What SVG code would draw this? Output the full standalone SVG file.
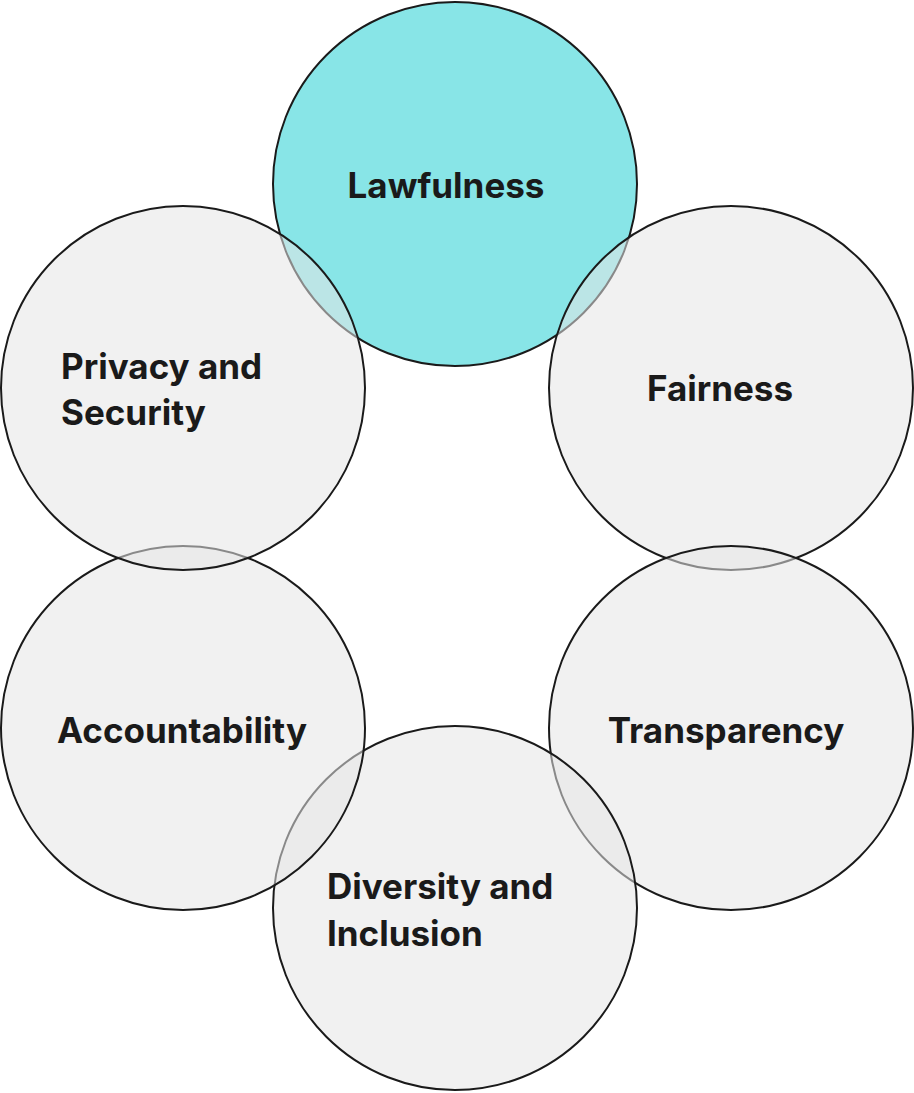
<svg xmlns="http://www.w3.org/2000/svg" width="914" height="1093" viewBox="0 0 914 1093">
<style>
.c{fill:#e6e6e6;fill-opacity:0.55;stroke:#1a1a1a;stroke-width:2}
.t{font-family:Inter,"Liberation Sans",sans-serif;font-weight:700;font-size:35px;fill:#1a1a1a}
.m{text-anchor:middle}
</style>
<rect width="914" height="1093" fill="#fff"/>
<g id="lawfulness"><circle cx="455" cy="184" r="182" fill="#88e5e7" stroke="#1a1a1a" stroke-width="2"/><text class="t m" x="446" y="198">Lawfulness</text></g>
<g id="fairness"><circle class="c" cx="731" cy="388" r="182"/><text class="t m" x="720" y="401">Fairness</text></g>
<g id="transparency"><circle class="c" cx="731" cy="728" r="182"/><text class="t m" x="726" y="743">Transparency</text></g>
<g id="diversity"><circle class="c" cx="455" cy="908" r="182"/><text class="t" x="327" y="899">Diversity and</text><text class="t" x="327" y="946">Inclusion</text></g>
<g id="accountability"><circle class="c" cx="183" cy="728" r="182"/><text class="t m" x="182" y="743">Accountability</text></g>
<g id="privacy"><circle class="c" cx="183" cy="388" r="182"/><text class="t" x="61" y="379">Privacy and</text><text class="t" x="61" y="425">Security</text></g>
<g id="connectors"></g>
</svg>
